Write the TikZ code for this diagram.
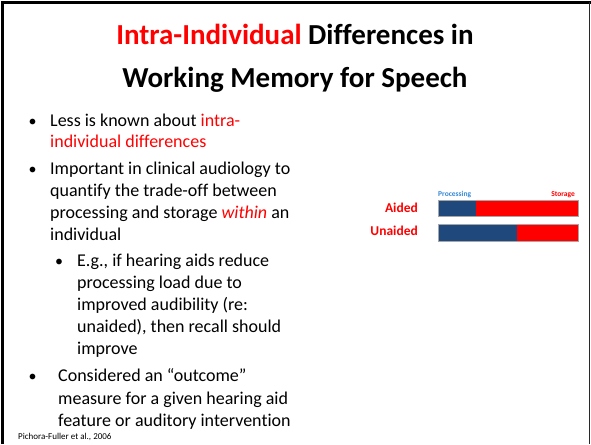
\documentclass[tikz,border=0pt]{standalone}
\usepackage{fontspec}
\setmainfont{Carlito}[Ligatures=NoCommon]
\definecolor{slidered}{RGB}{255,0,0}
\definecolor{procblue}{RGB}{31,73,125}
\definecolor{labelblue}{RGB}{52,136,214}
\definecolor{framegray}{RGB}{40,40,40}
\begin{document}
\begin{tikzpicture}[x=1pt,y=-1pt,
  title/.style={font=\fontsize{29}{29}\selectfont\bfseries, anchor=base},
  body/.style={font=\fontsize{18}{18}\selectfont, anchor=base west, inner sep=0pt},
  dot/.style={font=\fontsize{16}{16}\selectfont, anchor=base west, inner sep=0pt},
  barlabel/.style={font=\fontsize{13.5}{13.5}\selectfont\bfseries, text=slidered, anchor=base east, inner sep=0pt},
  tinylabel/.style={font=\fontsize{7.5}{7.5}\selectfont\bfseries, inner sep=0pt},
  barframe/.style={draw=gray!70, line width=0.8pt}]
\useasboundingbox (0,0) rectangle (591,444);
% slide frame (left, top, right)
\draw[black, line width=3pt] (2.5,444) -- (2.5,2.5) -- (591,2.5);
\draw[framegray, line width=1.2pt] (589.5,2.5) -- (589.5,444);

% title
\node[title] (t1) at (295,45) {\textcolor{slidered}{Intra-Individual} Differences in};
\node[title] (t2) at (295,87.5) {Working Memory for Speech};

% bullet list
\node[dot] (b1) at (28.5,126.5) {\textbullet};
\node[body] (l1) at (50,126.5) {Less is known about \textcolor{slidered}{intra-}};
\node[body] (l2) at (50,147.5) {\textcolor{slidered}{individual differences}};
\node[dot] (b2) at (28.5,174) {\textbullet};
\node[body] (l3) at (50,174) {Important in clinical audiology to};
\node[body] (l4) at (50,196) {quantify the trade-off between};
\node[body] (l5) at (50,218) {processing and storage \textcolor{slidered}{\itshape within} an};
\node[body] (l6) at (50,240) {individual};
\node[dot] (b3) at (55,266.5) {\textbullet};
\node[body] (l7) at (77,266.5) {E.g., if hearing aids reduce};
\node[body] (l8) at (77,288) {processing load due to};
\node[body] (l9) at (77,310) {improved audibility (re:};
\node[body] (l10) at (77,332) {unaided), then recall should};
\node[body] (l11) at (77,354) {improve};
\node[dot] (b4) at (28.5,381.5) {\textbullet};
\node[body] (l12) at (58,381.5) {Considered an “outcome”};
\node[body] (l13) at (58,404) {measure for a given hearing aid};
\node[body] (l14) at (58,426.5) {feature or auditory intervention};

% citation
\node[font=\fontsize{9}{9}\selectfont, anchor=base west, inner sep=0pt] (cite) at (18,439) {Pichora-Fuller et al., 2006};

% processing / storage bars
\node[tinylabel, text=labelblue, anchor=base west] (proc) at (438,196.5) {Processing};
\node[tinylabel, text=slidered, anchor=base east] (stor) at (575,196.5) {Storage};
\fill[procblue] (438,200) rectangle (476,216);
\fill[slidered] (476,200) rectangle (578,216);
\draw[barframe] (438,200) rectangle (578,216);
\fill[procblue] (438,224.5) rectangle (516.5,241);
\fill[slidered] (516.5,224.5) rectangle (578,241);
\draw[barframe] (438,224.5) rectangle (578,241);
\node[barlabel] (aided) at (418,212) {Aided};
\node[barlabel] (unaided) at (418,235.5) {Unaided};
\end{tikzpicture}
\end{document}
